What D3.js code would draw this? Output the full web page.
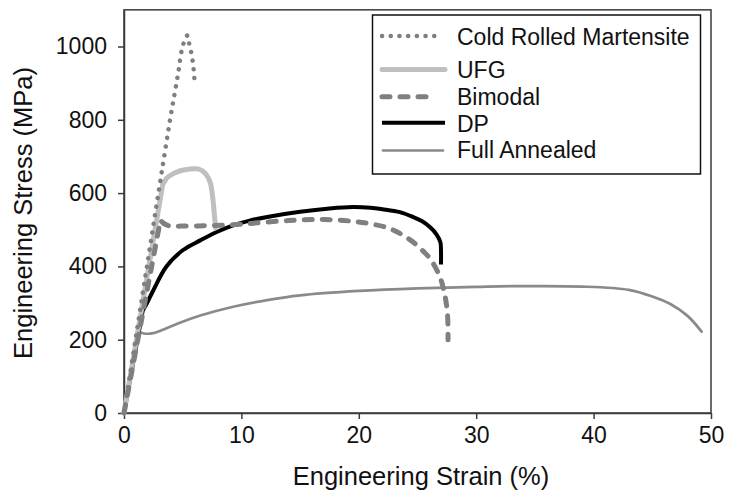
<!DOCTYPE html>
<html>
<head>
<meta charset="utf-8">
<script src="https://cdn.jsdelivr.net/npm/d3@7"></script>
<style>
  html, body { margin: 0; padding: 0; background: #fff; }
  svg { display: block; font-family: "Liberation Sans", Arial, sans-serif; }
</style>
</head>
<body>
<svg id="chart" width="729" height="494"></svg>
<script>
// ---- data (strain %, stress MPa) ----
const seriesNames = ["Cold Rolled Martensite", "UFG", "Bimodal", "DP", "Full Annealed"];

const martensite = [[0,0],[3.2,655],[4.0,815],[4.35,878],[4.65,935],[4.92,990],[5.2,1020],[5.4,1030],[5.55,1008],[5.75,980],[5.87,955],[5.95,932],[6.0,910]];
const ufg = [[0,0],[3.3,624],[3.45,631],[3.65,641],[4.2,653],[4.8,661],[5.6,666],[6.3,666],[6.75,659],[7.1,646],[7.35,628],[7.55,590],[7.7,540],[7.8,505]];
const bimodal = [[0,0],[3.1,526],[3.35,518],[3.8,511],[5,510],[7,511],[9,513],[11,518],[14,525],[17,528],[19.5,523],[21,516],[22.4,506],[23.5,490],[24.6,467],[25.5,441],[26.1,420],[26.9,372],[27.3,326],[27.55,272],[27.6,200]];
const dp = [[0,0],[1.6,280],[1.85,293],[2.5,335],[3.6,399],[5,444],[6.5,471],[7.9,494],[9.3,512],[10.7,525],[12.2,535],[15,549],[17.5,558],[19.5,562],[21,560],[22,556],[23.5,548],[24.6,535],[25.4,523],[26.1,506],[26.6,488],[26.95,466],[27.0,445],[27.0,405]];
const annealed = [[0,0],[1.3,222],[1.7,217],[2.5,218],[3.2,226],[4.5,243],[6.5,266],[9.3,290],[12.2,308],[15,321],[20,333],[25,340],[30,344],[33,346],[39,345],[43,336],[45,318],[46.5,298],[48,265],[49.2,222]];

const xTicks = [0, 10, 20, 30, 40, 50];
const yTicks = [0, 200, 400, 600, 800, 1000];
const xTitle = "Engineering Strain (%)";
const yTitle = "Engineering Stress (MPa)";

// ---- layout ----
const svg = d3.select("#chart");
const X0 = 124, X1 = 711, Y0 = 413, Ytop = 9.85;
const x = d3.scaleLinear().domain([0, 50]).range([X0, X1]);
const y = d3.scaleLinear().domain([0, 1100]).range([Y0, Ytop]);

const axisColor = "#3a3a3a";

// frame (top/right)
svg.append("rect")
  .attr("x", X0).attr("y", y(1100))
  .attr("width", X1 - X0).attr("height", Y0 - y(1100))
  .attr("fill", "none").attr("stroke", axisColor).attr("stroke-width", 1.5);

// axes
const gx = svg.append("g").attr("transform", `translate(0,${Y0})`)
  .call(d3.axisBottom(x).tickValues(xTicks).tickFormat(d3.format("d")).tickSize(6).tickPadding(8).tickSizeOuter(0));
const gy = svg.append("g").attr("transform", `translate(${X0},0)`)
  .call(d3.axisLeft(y).tickValues(yTicks).tickFormat(d3.format("d")).tickSize(6).tickPadding(11).tickSizeOuter(0));
[gx, gy].forEach(g => {
  g.select(".domain").attr("stroke", axisColor).attr("stroke-width", 1.5);
  g.selectAll(".tick line").attr("stroke", axisColor).attr("stroke-width", 1.5);
  g.selectAll(".tick text").attr("fill", "#111").style("font-size", "23px")
    .style("font-family", "'Liberation Sans', Arial, sans-serif");
});

// axis titles
svg.append("text").attr("x", 421).attr("y", 485).attr("text-anchor", "middle")
  .style("font-size", "25.5px").attr("fill", "#111").text(xTitle);
svg.append("text").attr("transform", "translate(32,213) rotate(-90)").attr("text-anchor", "middle")
  .style("font-size", "25.5px").attr("fill", "#111").text(yTitle);

// ---- series ----
// straight elastic segment from the origin, smooth curve afterwards
const smooth = d3.line().x(d => x(d[0])).y(d => y(d[1])).curve(d3.curveCatmullRom.alpha(0.5));
const pathFor = data => {
  const rest = smooth(data.slice(1));
  return `M${x(data[0][0])},${y(data[0][1])}L` + rest.slice(1);
};
const styles = {
  "Cold Rolled Martensite": { data: martensite, stroke: "#7f7f7f", width: 4.5, dash: "0.1 8.6", cap: "round" },
  "UFG": { data: ufg, stroke: "#bfbfbf", width: 5, dash: null, cap: "round" },
  "Bimodal": { data: bimodal, stroke: "#808080", width: 5, dash: "8 10", cap: "round" },
  "DP": { data: dp, stroke: "#000000", width: 4, dash: null, cap: "butt" },
  "Full Annealed": { data: annealed, stroke: "#8a8a8a", width: 2.7, dash: null, cap: "round" }
};
const drawOrder = ["Full Annealed", "DP", "UFG", "Bimodal", "Cold Rolled Martensite"];
drawOrder.forEach(name => {
  const s = styles[name];
  svg.append("path").attr("d", pathFor(s.data)).attr("fill", "none")
    .attr("stroke", s.stroke).attr("stroke-width", s.width)
    .attr("stroke-linecap", s.cap).attr("stroke-linejoin", "round")
    .attr("stroke-dasharray", s.dash);
});

// ---- legend ----
const lg = svg.append("g");
lg.append("rect").attr("x", 372.5).attr("y", 15).attr("width", 328).attr("height", 159)
  .attr("fill", "#fff").attr("stroke", "#111").attr("stroke-width", 1.5);
const legY = [36, 69.5, 96.7, 122.7, 150.5];
const legBase = [45, 78.3, 105, 131.7, 158.3];
const legX2 = [435, 445, 435, 445, 443];
seriesNames.forEach((name, i) => {
  const s = styles[name];
  lg.append("line").attr("x1", name === "Full Annealed" ? 383 : 382).attr("x2", legX2[i])
    .attr("y1", legY[i]).attr("y2", legY[i])
    .attr("stroke", s.stroke).attr("stroke-width", s.width)
    .attr("stroke-linecap", s.cap).attr("stroke-dasharray", s.dash);
  lg.append("text").attr("x", 457).attr("y", legBase[i])
    .style("font-size", "23px").attr("fill", "#111").text(name);
});
</script>
</body>
</html>
